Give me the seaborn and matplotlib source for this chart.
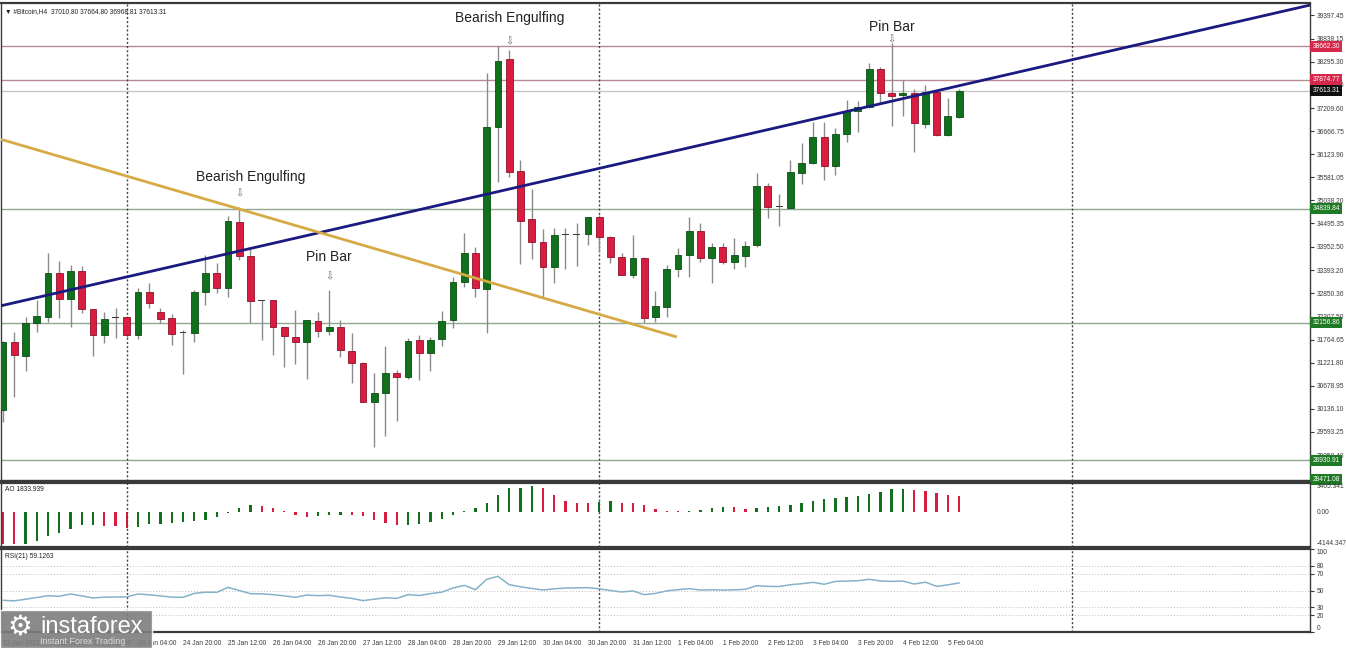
import matplotlib
matplotlib.use("Agg")
import numpy as np
import pandas as pd
import matplotlib.pyplot as plt
import seaborn as sns
from matplotlib.patches import Rectangle
import matplotlib.transforms as mtransforms

# Bitcoin H4, 22 Jan 04:00 -> 5 Feb 08:00 (86 bars)
opens = [30109, 31715, 31386, 32147, 32303, 33323, 32719, 33384, 32477, 31872,
         32272, 32303, 31872, 32876, 32421, 32264, 31942, 31927, 32876, 33323,
         32970, 34530, 33730, 32695, 32695, 32051, 31833, 31715, 32209, 31973,
         32068, 31504, 31222, 30304, 30501, 30986, 30892, 31755, 31456, 31771,
         32225, 33126, 33808, 32947, 36771, 38356, 35727, 34593, 34067, 33465,
         34240, 34240, 34240, 34654, 34184, 33700, 33283, 33676, 32288, 32538,
         33418, 33754, 34325, 33676, 33949, 33596, 33730, 33989, 35376, 34906,
         34852, 35689, 35924, 36521, 35847, 36592, 37147, 37241, 38120, 37556,
         37515, 37556, 36834, 37594, 36572, 37010.80]
highs = [31730, 31950, 32303, 32695, 33808, 33620, 33518, 33495, 32490, 32421,
         32499, 32320, 32970, 33088, 32500, 32366, 31990, 32931, 33754, 33558,
         34671, 34882, 33949, 32700, 32700, 32060, 32460, 32230, 32421, 32931,
         32225, 31911, 31240, 30971, 31613, 31049, 31809, 31872, 31833, 32437,
         33243, 34264, 33949, 38027, 38662, 38574, 35988, 35306, 34358, 34381,
         34389, 34506, 34654, 34694, 34190, 33808, 34224, 33714, 32914, 33518,
         33911, 34654, 34499, 34028, 34028, 34146, 34090, 35689, 35454, 35188,
         35988, 36380, 36888, 36888, 36733, 37399, 37382, 38276, 38182, 38730,
         37869, 37650, 37751, 37634, 37439, 37664.80]
lows = [29834, 30421, 31026, 31950, 32185, 32264, 32060, 32382, 31379, 31677,
        31793, 31793, 31771, 32500, 32162, 31637, 30955, 31715, 32578, 32853,
        32774, 33636, 32148, 31755, 31402, 31120, 31200, 30830, 31833, 31872,
        31363, 30751, 30290, 29231, 29497, 29850, 30830, 30814, 31033, 31614,
        32030, 33008, 32759, 31927, 35477, 35581, 33542, 33652, 32759, 33102,
        33424, 33495, 33989, 33834, 33558, 33283, 33206, 32162, 32185, 32288,
        33229, 33229, 33596, 33102, 33542, 33418, 33479, 33935, 34617, 34436,
        34840, 35423, 35894, 35517, 35635, 36418, 36653, 37203, 37321, 36787,
        37023, 36183, 36733, 36552, 36552, 36968.81]
closes = [31715, 31402, 32162, 32319, 33323, 32719, 33384, 32477, 31872, 32242,
          32280, 31872, 32891, 32632, 32249, 31895, 31930, 32891, 33323, 32970,
          34553, 33730, 32672, 32683, 32051, 31848, 31715, 32225, 31973, 32068,
          31520, 31222, 30304, 30515, 30971, 30892, 31731, 31456, 31755, 32209,
          33126, 33808, 32970, 36771, 38323, 35713, 34560, 34067, 33465, 34224,
          34235, 34245, 34654, 34184, 33700, 33283, 33676, 32264, 32561, 33418,
          33754, 34325, 33676, 33949, 33596, 33754, 33972, 35376, 34889, 34900,
          35698, 35924, 36521, 35847, 36592, 37147, 37241, 38120, 37556, 37500,
          37556, 36851, 37594, 36572, 37023, 37613.31]

ao_values = [-3740, -3815, -3740, -3460, -2870, -2440, -1965, -1575, -1550, -1690,
             -1700, -1850, -1800, -1455, -1375, -1260, -1240, -1060, -905, -590,
             -80, 510, 785, 670, 510, 120, -390, -590, -510, -390,
             -315, -390, -510, -905, -1335, -1540, -1500, -1455, -1140, -785,
             -355, 120, 510, 1100, 2005, 2790, 2870, 3065, 2790, 2005,
             1300, 1100, 1020, 1220, 1250, 1100, 1020, 785, 390, 80,
             60, 80, 235, 470, 550, 530, 390, 470, 630, 650,
             865, 1100, 1260, 1495, 1650, 1810, 1890, 2125, 2360, 2675,
             2750, 2595, 2440, 2200, 1965, 1833.939]

rsi_values = [38.2, 37.5, 39.5, 41.5, 43.8, 43.0, 45.8, 43.5, 41.0, 42.0,
              42.2, 42.2, 45.8, 44.8, 43.5, 42.0, 41.8, 46.5, 48.0, 47.8,
              53.8, 50.0, 46.2, 46.0, 45.0, 43.5, 41.8, 44.5, 43.8, 44.2,
              42.2, 40.5, 37.8, 39.5, 41.2, 40.5, 45.0, 44.0, 46.2, 48.0,
              53.0, 56.2, 51.0, 63.5, 67.1, 57.0, 54.5, 52.5, 50.6, 52.0,
              53.0, 53.2, 53.4, 52.0, 50.0, 48.2, 49.5, 45.0, 46.5, 49.5,
              51.0, 52.2, 50.5, 50.8, 50.5, 50.8, 51.5, 55.8, 55.0, 54.8,
              57.0, 58.2, 59.8, 57.5, 61.0, 61.3, 61.8, 63.5, 61.5, 61.0,
              61.3, 57.8, 60.0, 55.0, 56.8, 59.1263]

# x-axis labels, every 4 bars
tick_labels = ["22 Jan 2022", "22 Jan 20:00", "23 Jan 12:00", "24 Jan 04:00",
               "24 Jan 20:00", "25 Jan 12:00", "26 Jan 04:00", "26 Jan 20:00",
               "27 Jan 12:00", "28 Jan 04:00", "28 Jan 20:00", "29 Jan 12:00",
               "30 Jan 04:00", "30 Jan 20:00", "31 Jan 12:00", "1 Feb 04:00",
               "1 Feb 20:00", "2 Feb 12:00", "3 Feb 04:00", "3 Feb 20:00",
               "4 Feb 12:00", "5 Feb 04:00"]
week_separators = [11, 53, 95]

price_ticks = [39397.45, 38838.15, 38295.30, 37752.45, 37209.60, 36666.75,
               36123.90, 35581.05, 35038.20, 34495.35, 33952.50, 33393.20,
               32850.36, 32307.50, 31764.65, 31221.80, 30678.95, 30136.10,
               29593.25, 29050.40]

level_prices = [38662.30, 37874.77, 37613.31, 34839.84, 32156.86, 28930.91, 28471.08]
level_kinds = ["res", "res", "cur", "sup", "sup", "sup", "sup"]

# trend lines (bar index, price)
blue_x = [-0.27, 116.2]
blue_y = [32554, 39632]
gold_x = [-0.27, 59.9]
gold_y = [36481, 31825]

# pattern labels: text, bar index
patterns = ["Bearish Engulfing", "Pin Bar", "Bearish Engulfing", "Pin Bar"]
pattern_bars = [21, 29, 45, 79]

df = pd.DataFrame({"open": opens, "high": highs, "low": lows, "close": closes,
                   "ao": ao_values, "rsi": rsi_values})
df["i"] = np.arange(len(df))

sns.set_style("white")
plt.rcParams["font.family"] = ["Liberation Sans", "DejaVu Sans"]

W, H = 1346, 648
fig = plt.figure(figsize=(W / 100, H / 100), dpi=100)
fig.patch.set_facecolor("white")


def px_axes(x0, y0, x1, y1):
    return fig.add_axes([x0 / W, 1 - y1 / H, (x1 - x0) / W, (y1 - y0) / H])


ax = px_axes(1, 3, 1310, 481)
ax_ao = px_axes(1, 483, 1310, 547)
ax_rsi = px_axes(1, 549, 1310, 632)

XLIM = (-0.178, 116.18)
GREEN = "#11701c"
RED = "#d91d40"
AXC = "#3a3a3a"
LBL = 4.8

# ---- candles
for _, r in df.iterrows():
    ax.vlines(r["i"], r["low"], r["high"], color="#8a8a8a", lw=1, zorder=2)
    body = abs(r["close"] - r["open"])
    if body < 20:
        ax.bar(r["i"], 28, bottom=r["close"] - 14, width=0.62, color="#3a3a3a",
               lw=0, zorder=3)
        continue
    up = r["close"] > r["open"]
    ax.bar(r["i"], body, bottom=min(r["open"], r["close"]), width=0.62,
           color=GREEN if up else RED, edgecolor="#0b4d12" if up else "#8e1128",
           lw=0.6, zorder=3)

# horizontal levels
level_line = {"res": "#b98a94", "cur": "#c8c8c8", "sup": "#8fa88f"}
level_box = {"res": "#d6284a", "cur": "#111111", "sup": "#1f7a25"}
for p, k in zip(level_prices, level_kinds):
    ax.axhline(p, color=level_line[k], lw=1, zorder=1)

ax.plot(blue_x, blue_y, color="#1a1a80", lw=2, zorder=4, solid_capstyle="butt")
ax.plot(gold_x, gold_y, color="#d6aa45", lw=2, zorder=4, solid_capstyle="butt")

ax.set_xlim(*XLIM)
ax.set_ylim(28439, 39680)
ax.yaxis.tick_right()
ax.set_yticks(price_ticks)
ax.set_yticklabels([f"{v:.2f}" for v in price_ticks])
ax.tick_params(axis="y", labelsize=LBL, length=3, width=0.8, colors=AXC, pad=2)
ax.set_xticks([])

trans = mtransforms.blended_transform_factory(ax.transAxes, ax.transData)
for p, k in zip(level_prices, level_kinds):
    ax.text(1.0018, p, f"{p:.2f}", transform=trans, fontsize=LBL, color="white",
            va="center", ha="left", clip_on=False, zorder=10,
            bbox=dict(boxstyle="square,pad=0.3", fc=level_box[k], ec="none"))

# pattern annotations (offsets in points from bar high)
arrow_off = [10, 10, 6.5, 3]
text_off = [21.5, 23.5, 23, 11.5]
text_dx = [8, 0, 0, 0]
for name, b, ao_, to_, dx in zip(patterns, pattern_bars, arrow_off, text_off, text_dx):
    hi = df.loc[b, "high"]
    ax.annotate("\u21e9", xy=(b, hi), xytext=(0, ao_), textcoords="offset points",
                ha="center", va="center", fontsize=7, color="#666666",
                family="DejaVu Sans", zorder=6)
    ax.annotate(name, xy=(b, hi), xytext=(dx, to_), textcoords="offset points",
                ha="center", va="center", fontsize=10, color="#222222", zorder=6)

ax.text(0.003, 0.99, "\u25bc #Bitcoin,H4  37010.80 37664.80 36968.81 37613.31",
        transform=ax.transAxes, fontsize=LBL, color="#222222", va="top", ha="left")

# ---- Awesome Oscillator
ao_diff = np.diff(np.array(ao_values), prepend=np.inf)
ao_colors = [GREEN if d > 0 else RED for d in ao_diff]
ax_ao.bar(df["i"], df["ao"], width=0.22, color=ao_colors, lw=0)
ax_ao.set_xlim(*XLIM)
ax_ao.set_ylim(-4144.347, 3405.341)
ax_ao.yaxis.tick_right()
ax_ao.set_yticks([3405.341, 0, -4144.347])
ax_ao.set_yticklabels(["3405.341", "0.00", "-4144.347"])
ax_ao.get_yticklabels()[0].set_va("top")
ax_ao.get_yticklabels()[2].set_va("bottom")
ax_ao.tick_params(axis="y", labelsize=LBL, length=0, colors=AXC, pad=5)
ax_ao.set_xticks([])
ax_ao.text(0.003, 0.95, "AO 1833.939", transform=ax_ao.transAxes, fontsize=LBL,
           color="#222222", va="top")

# ---- RSI
for lv in [80, 70, 50, 30, 20]:
    ax_rsi.axhline(lv, color="#bdbdbd", lw=0.7, ls=(0, (1, 2)), zorder=1)
sns.lineplot(data=df, x="i", y="rsi", ax=ax_rsi, color="#86b2c9", lw=1.1, zorder=3)
ax_rsi.set_xlim(*XLIM)
ax_rsi.set_ylim(0, 100)
ax_rsi.yaxis.tick_right()
ax_rsi.set_yticks([100, 80, 70, 50, 30, 20, 0])
ax_rsi.set_yticklabels(["100", "80", "70", "50", "30", "20", "0"])
ax_rsi.get_yticklabels()[0].set_va("top")
ax_rsi.get_yticklabels()[-1].set_va("bottom")
ax_rsi.tick_params(axis="y", labelsize=LBL, length=3, width=0.8, colors=AXC, pad=2)
ax_rsi.set_xlabel("")
ax_rsi.set_ylabel("")
ax_rsi.set_xticks(np.arange(0, 86, 4))
ax_rsi.set_xticklabels(tick_labels, ha="left")
ax_rsi.tick_params(axis="x", labelsize=LBL, length=3, width=0.8, colors=AXC, pad=3)
ax_rsi.text(0.003, 0.95, "RSI(21) 59.1263", transform=ax_rsi.transAxes,
            fontsize=LBL, color="#222222", va="top")

for a in (ax, ax_ao, ax_rsi):
    a.set_ylabel("")
    for s in a.spines.values():
        s.set_color(AXC)
        s.set_linewidth(1)
    a.spines["top"].set_linewidth(1.6)
    a.spines["bottom"].set_linewidth(1.6)
    for w in week_separators:
        a.axvline(w, color="#444444", lw=1, ls=(0, (1.5, 1.5)), zorder=1)

# watermark
fig.patches.append(Rectangle((0, 0), 152 / W, 38 / H, transform=fig.transFigure,
                             facecolor="#7d7d7d", alpha=0.9, zorder=20))
fig.text(20 / W, 1 - 627 / H, "\u2699", fontsize=20, color="white", ha="center",
         va="center", family="DejaVu Sans", zorder=21)
fig.text(40 / W, 1 - 627 / H, "instaforex", fontsize=17, color="white",
         ha="left", va="center", zorder=21)
fig.text(40 / W, 1 - 642 / H, "Instant Forex Trading", fontsize=6.5,
         color="#dddddd", ha="left", va="center", zorder=21)

fig.savefig("out.png", dpi=100, facecolor="white")
